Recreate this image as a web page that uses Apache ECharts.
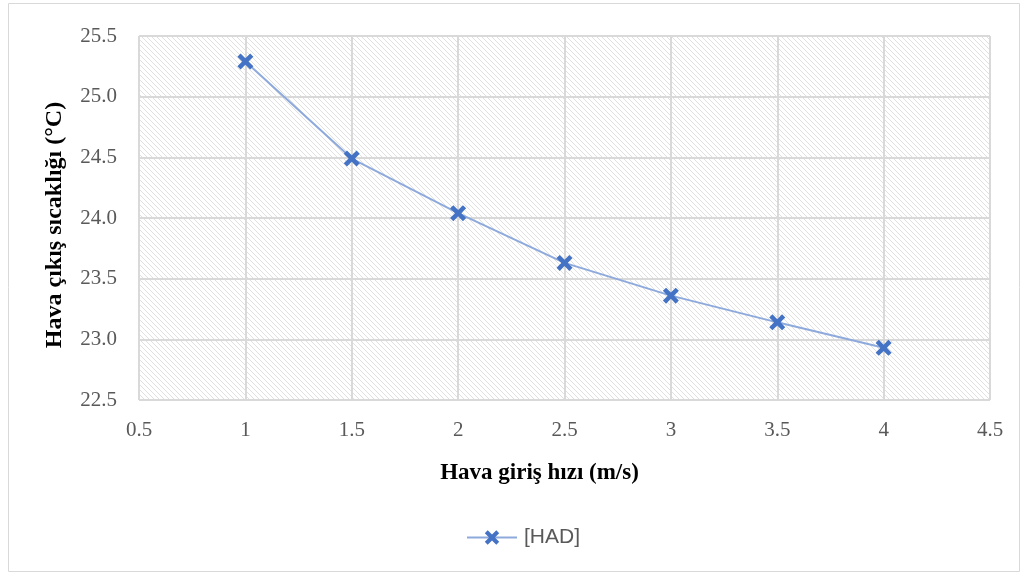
<!DOCTYPE html>
<html>
<head>
<meta charset="utf-8">
<script src="https://cdn.jsdelivr.net/npm/echarts@6/dist/echarts.min.js"></script>
<style>
  html, body { margin: 0; padding: 0; background: #fff; }
  #chart { width: 1026px; height: 575px; }
</style>
</head>
<body>
<div id="chart"></div>
<script>
// Air inlet velocity (m/s) vs. air outlet temperature (°C)
const velocities = [1, 1.5, 2, 2.5, 3, 3.5, 4];
const outletTemps = [25.29, 24.49, 24.04, 23.63, 23.36, 23.14, 22.93];
const seriesName = '[HAD]';
const xTitle = 'Hava giriş hızı (m/s)';
const yTitle = 'Hava çıkış sıcaklığı (°C)';

// Diagonal hatch fill for the plot area
function hatchPattern() {
  const s = 5;
  const c = document.createElement('canvas');
  c.width = s; c.height = s;
  const g = c.getContext('2d');
  g.fillStyle = '#ffffff';
  g.fillRect(0, 0, s, s);
  g.strokeStyle = '#e0e0e0';
  g.lineWidth = 1;
  g.beginPath();
  g.moveTo(-1, -1); g.lineTo(s + 1, s + 1);
  g.moveTo(-1, s - 1); g.lineTo(1, s + 1);
  g.moveTo(s - 1, -1); g.lineTo(s + 1, 1);
  g.stroke();
  return { image: c, repeat: 'repeat' };
}

const xMark = 'path://M2,0 L5,3 L8,0 L10,2 L7,5 L10,8 L8,10 L5,7 L2,10 L0,8 L3,5 L0,2 Z';
const serif = 'Liberation Serif';

const chart = echarts.init(document.getElementById('chart'));
chart.setOption({
  animation: false,
  backgroundColor: '#ffffff',
  graphic: [{
    type: 'rect',
    shape: { x: 8.5, y: 3.5, width: 1011, height: 568 },
    style: { fill: 'none', stroke: '#d9d9d9', lineWidth: 1 },
    silent: true
  }],
  grid: {
    left: 139, right: 36, top: 36, bottom: 175,
    show: true,
    backgroundColor: hatchPattern(),
    borderColor: '#d9d9d9',
    borderWidth: 1
  },
  legend: {
    top: 522,
    left: 461,
    itemWidth: 50,
    itemHeight: 18,
    itemGap: 8,
    textStyle: { fontFamily: 'Liberation Sans', fontSize: 21, color: '#595959', padding: [0, 0, 0, 2] },
    data: [seriesName]
  },
  xAxis: {
    type: 'value',
    min: 0.5, max: 4.5, interval: 0.5,
    name: xTitle,
    nameLocation: 'middle',
    nameGap: 62,
    nameTextStyle: {
      fontFamily: serif, fontSize: 23, fontWeight: 'bold', color: '#000',
      padding: [0, 50, 0, 0]
    },
    axisLine: { show: false },
    axisTick: { show: false },
    axisLabel: { fontFamily: serif, fontSize: 21, color: '#595959', margin: 20 },
    splitLine: { show: true, lineStyle: { color: '#d9d9d9', width: 2 } }
  },
  yAxis: {
    type: 'value',
    min: 22.5, max: 25.5, interval: 0.5,
    name: yTitle,
    nameLocation: 'middle',
    nameGap: 72,
    nameTextStyle: {
      fontFamily: serif, fontSize: 24, fontWeight: 'bold', color: '#000',
      padding: [0, 14, 0, 0]
    },
    axisLine: { show: false },
    axisTick: { show: false },
    axisLabel: {
      fontFamily: serif, fontSize: 21, color: '#595959', margin: 22,
      formatter: v => v.toFixed(1)
    },
    splitLine: { show: true, lineStyle: { color: '#d9d9d9', width: 2 } }
  },
  series: [{
    name: seriesName,
    type: 'line',
    data: velocities.map((v, i) => [v, outletTemps[i]]),
    symbol: xMark,
    symbolSize: 16,
    itemStyle: { color: '#4472c4' },
    lineStyle: { color: '#8eaadc', width: 2 }
  }]
});
</script>
</body>
</html>
